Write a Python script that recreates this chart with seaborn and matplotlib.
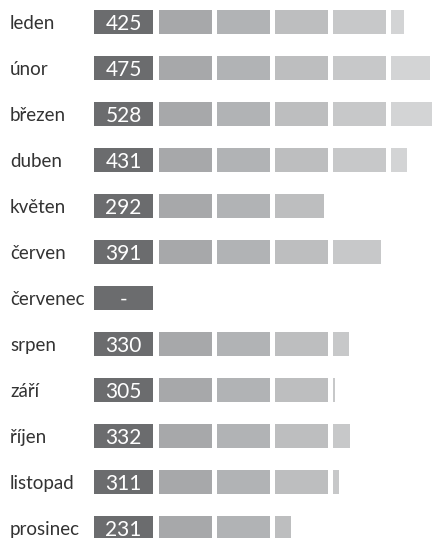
import matplotlib
matplotlib.use("Agg")
import matplotlib.pyplot as plt
import seaborn as sns
import pandas as pd
import numpy as np

# data
months = ["leden", "únor", "březen", "duben", "květen", "červen", "červenec",
          "srpen", "září", "říjen", "listopad", "prosinec"]
values = [425, 475, 528, 431, 292, 391, None, 330, 305, 332, 311, 231]

SEG = 100      # units per block
GAP = 9.3      # white gap between blocks (in value units)
N_SEG = 5
seg_colors = ["#a7a8aa", "#b1b3b5", "#bdbebf", "#c7c8c9", "#d3d4d5"]
box_color = "#6b6c6e"

sns.set_style("white")
plt.rcParams["font.family"] = ["Lato", "DejaVu Sans"]

vals = np.array([np.nan if v is None else v for v in values], dtype=float)
df = pd.DataFrame({"month": months, "value": vals})
for k in range(N_SEG):
    df[f"seg{k}"] = np.clip(df["value"] - k * SEG, 0, SEG)

fig = plt.figure(figsize=(4.32, 5.38), dpi=100)
ax = fig.add_axes([0, 0, 1, 1])

# first block through seaborn, remaining blocks shifted by block pitch
sns.barplot(data=df, x="seg0", y="month", orient="h", color=seg_colors[0],
            saturation=1, width=0.52, errorbar=None, linewidth=0, ax=ax)
ypos = np.arange(len(months))
for k in range(1, N_SEG):
    ax.barh(ypos, df[f"seg{k}"].fillna(0), left=k * (SEG + GAP), height=0.52,
            color=seg_colors[k], linewidth=0)

# dark value boxes
px = 0.53  # pixels per unit
box_left, box_right = (94 - 159) / px, (153 - 159) / px
ax.barh(ypos, box_right - box_left, left=box_left, height=0.52,
        color=box_color, linewidth=0)
for i, v in enumerate(values):
    txt = "-" if v is None else str(v)
    ax.text((box_left + box_right) / 2, i, txt, ha="center", va="center_baseline",
            color="white", fontsize=15)
    ax.text((10 - 159) / px, i, months[i], ha="left", va="center_baseline",
            color="#333333", fontsize=13.5)

ax.set_xlim(-159 / px, (432 - 159) / px)
ax.set_ylim(11 + 10 / 46, -22 / 46)
ax.axis("off")

fig.savefig("out.png", dpi=100)
